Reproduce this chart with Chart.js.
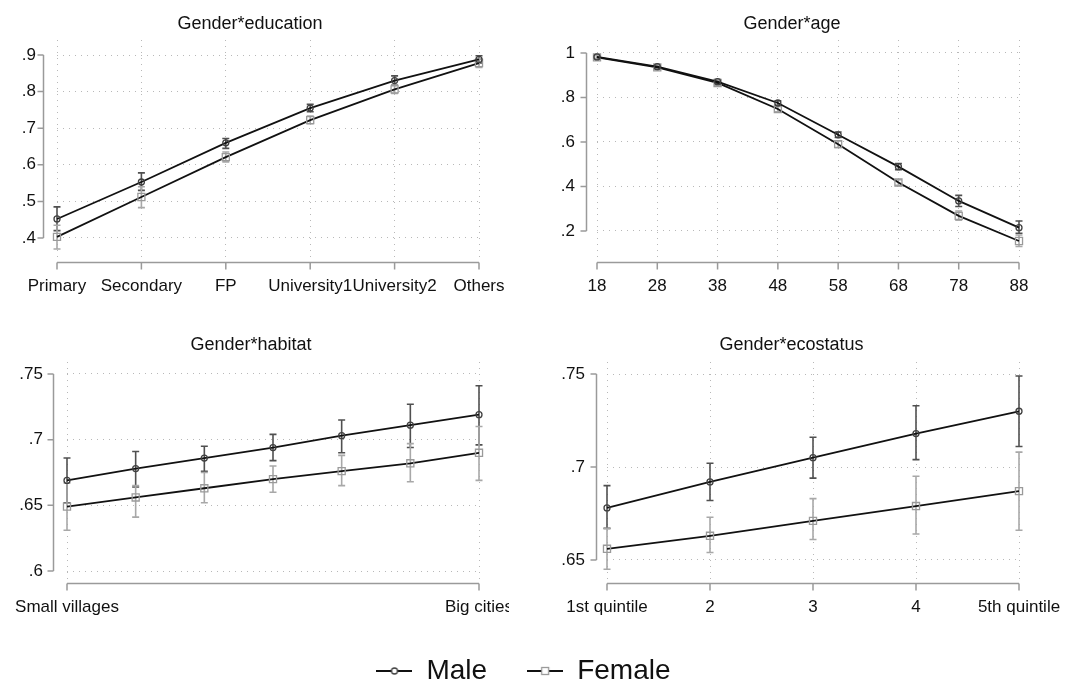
<!DOCTYPE html>
<html>
<head>
<meta charset="utf-8">
<script src="https://cdn.jsdelivr.net/npm/chart.js@4/dist/chart.umd.min.js"></script>
<style>
  body { margin: 0; background: #fff; }
  #wrap { position: relative; width: 1086px; height: 683px; overflow: hidden; }
  canvas { position: absolute; }
</style>
</head>
<body>
<div id="wrap">
  <canvas id="edu" width="543" height="300" style="left:0;top:0"></canvas>
  <canvas id="age" width="543" height="300" style="left:543px;top:0"></canvas>
  <canvas id="hab" width="509" height="320" style="left:0;top:300px"></canvas>
  <canvas id="eco" width="543" height="320" style="left:543px;top:300px"></canvas>
  <canvas id="legend" width="1086" height="240" style="left:0;top:617px"></canvas>
</div>
<script>
// Gender*education
const eduLabels = ['Primary', 'Secondary', 'FP', 'University1', 'University2', 'Others'];
const eduTicks = [0.4, 0.5, 0.6, 0.7, 0.8, 0.9];
const eduMale = [0.452, 0.553, 0.66, 0.755, 0.83, 0.888];
const eduMaleLo = [0.42, 0.53, 0.645, 0.745, 0.818, 0.878];
const eduMaleHi = [0.485, 0.578, 0.672, 0.765, 0.843, 0.898];
const eduFemale = [0.403, 0.512, 0.621, 0.722, 0.806, 0.878];
const eduFemaleLo = [0.37, 0.483, 0.608, 0.712, 0.795, 0.866];
const eduFemaleHi = [0.435, 0.54, 0.635, 0.733, 0.818, 0.89];

// Gender*age
const ageLabels = ['18', '28', '38', '48', '58', '68', '78', '88'];
const ageTicks = [0.2, 0.4, 0.6, 0.8, 1];
const ageMale = [0.982, 0.938, 0.871, 0.775, 0.632, 0.489, 0.335, 0.215];
const ageMaleLo = [0.975, 0.93, 0.862, 0.765, 0.62, 0.475, 0.31, 0.19];
const ageMaleHi = [0.99, 0.946, 0.88, 0.785, 0.645, 0.503, 0.36, 0.245];
const ageFemale = [0.98, 0.935, 0.865, 0.748, 0.59, 0.418, 0.268, 0.155];
const ageFemaleLo = [0.973, 0.927, 0.855, 0.735, 0.575, 0.405, 0.248, 0.13];
const ageFemaleHi = [0.987, 0.943, 0.875, 0.76, 0.605, 0.43, 0.29, 0.182];

// Gender*habitat
const habLabels = ['Small villages', '', '', '', '', '', 'Big cities'];
const habTicks = [0.6, 0.65, 0.7, 0.75];
const habMale = [0.669, 0.678, 0.686, 0.694, 0.703, 0.711, 0.719];
const habMaleLo = [0.652, 0.664, 0.676, 0.684, 0.69, 0.694, 0.696];
const habMaleHi = [0.686, 0.691, 0.695, 0.704, 0.715, 0.727, 0.741];
const habFemale = [0.649, 0.656, 0.663, 0.67, 0.676, 0.682, 0.69];
const habFemaleLo = [0.631, 0.641, 0.652, 0.66, 0.665, 0.668, 0.669];
const habFemaleHi = [0.667, 0.665, 0.675, 0.68, 0.688, 0.697, 0.71];

// Gender*ecostatus
const ecoLabels = ['1st quintile', '2', '3', '4', '5th quintile'];
const ecoTicks = [0.65, 0.7, 0.75];
const ecoMale = [0.678, 0.692, 0.705, 0.718, 0.73];
const ecoMaleLo = [0.667, 0.682, 0.694, 0.704, 0.711];
const ecoMaleHi = [0.69, 0.702, 0.716, 0.733, 0.749];
const ecoFemale = [0.656, 0.663, 0.671, 0.679, 0.687];
const ecoFemaleLo = [0.645, 0.654, 0.661, 0.664, 0.666];
const ecoFemaleHi = [0.667, 0.673, 0.683, 0.695, 0.708];

const FONT = '"Liberation Sans", Arial, sans-serif';
Chart.defaults.font.family = FONT;
Chart.defaults.color = '#111';

const MALE_BAR = '#505050';
const FEMALE_BAR = '#a8a8a8';
const AXIS = '#9a9a9a';

// stata-like axes: y line only between first and last tick, x line between first and last category
const stataAxes = {
  id: 'stataAxes',
  beforeDatasetsDraw(chart, args, opts) {
    const { ctx, chartArea, scales: { x, y } } = chart;
    ctx.save();
    ctx.strokeStyle = AXIS;
    ctx.lineWidth = 1.5;
    const ax = Math.round(chartArea.left - opts.yGap) + 0.5;
    const vals = y.ticks.map(t => t.value);
    ctx.beginPath();
    ctx.moveTo(ax, y.getPixelForValue(Math.max(...vals)));
    ctx.lineTo(ax, y.getPixelForValue(Math.min(...vals)));
    vals.forEach(v => {
      const p = y.getPixelForValue(v);
      ctx.moveTo(ax - 6, p);
      ctx.lineTo(ax, p);
    });
    const labels = x.getLabels();
    const by = Math.round(chartArea.bottom) + 0.5;
    ctx.moveTo(x.getPixelForValue(0), by);
    ctx.lineTo(x.getPixelForValue(labels.length - 1), by);
    labels.forEach((l, i) => {
      if (!l) return;
      const p = x.getPixelForValue(i);
      ctx.moveTo(p, by);
      ctx.lineTo(p, by + 7);
    });
    ctx.stroke();
    ctx.restore();
  }
};

const errorBars = {
  id: 'errorBars',
  beforeDatasetsDraw(chart) {
    const { ctx, scales: { x, y } } = chart;
    chart.data.datasets.forEach(ds => {
      ctx.save();
      ctx.strokeStyle = ds.barColor;
      ctx.lineWidth = 1.6;
      ctx.beginPath();
      ds.data.forEach((v, j) => {
        const px = x.getPixelForValue(j);
        const top = y.getPixelForValue(ds.hi[j]);
        const bot = y.getPixelForValue(ds.lo[j]);
        ctx.moveTo(px, top); ctx.lineTo(px, bot);
        ctx.moveTo(px - 3.5, top); ctx.lineTo(px + 3.5, top);
        ctx.moveTo(px - 3.5, bot); ctx.lineTo(px + 3.5, bot);
      });
      ctx.stroke();
      ctx.restore();
    });
  }
};

// panel title, centred where the original puts it (not on the plot area)
const panelTitle = {
  id: 'panelTitle',
  afterDraw(chart, args, opts) {
    const { ctx } = chart;
    ctx.save();
    ctx.font = '18px ' + FONT;
    ctx.fillStyle = '#111';
    ctx.textAlign = 'center';
    ctx.textBaseline = 'middle';
    ctx.fillText(opts.text, opts.cx, opts.cy);
    ctx.restore();
  }
};

function fmt(v) {
  if (v >= 1) return '1';
  return v.toFixed(2).replace(/0+$/, '').replace(/^0/, '');
}

function panel(id, title, labels, male, maleLo, maleHi, female, femaleLo, femaleHi, ticks, c) {
  return new Chart(document.getElementById(id), {
    type: 'line',
    data: {
      labels,
      datasets: [
        {
          label: 'Male', data: male, lo: maleLo, hi: maleHi, barColor: MALE_BAR,
          borderColor: '#111', borderWidth: 1.8, tension: 0, clip: false,
          pointStyle: 'circle', pointRadius: 3, pointBorderColor: '#404040',
          pointBackgroundColor: 'rgba(255,255,255,0)', pointBorderWidth: 1.3
        },
        {
          label: 'Female', data: female, lo: femaleLo, hi: femaleHi, barColor: FEMALE_BAR,
          borderColor: '#111', borderWidth: 1.8, tension: 0, clip: false,
          pointStyle: 'rect', pointRadius: 5, pointBorderColor: '#9a9a9a',
          pointBackgroundColor: 'rgba(255,255,255,0)', pointBorderWidth: 1.3
        }
      ]
    },
    options: {
      responsive: false,
      animation: false,
      events: [],
      layout: { padding: { left: 0, right: c.padR, top: c.padT, bottom: 0 } },
      scales: {
        x: {
          type: 'category',
          offset: false,
          grid: {
            drawTicks: false,
            color: (ctx) => labels[ctx.index] ? '#b8b8b8' : 'rgba(0,0,0,0)',
            lineWidth: 1
          },
          border: { display: false, dash: [1, 5] },
          ticks: { autoSkip: false, maxRotation: 0, minRotation: 0, padding: 14, font: { size: 17 }, color: '#111' },
          afterFit(s) { s.height = c.xHeight; s.paddingLeft = 0; s.paddingRight = 0; }
        },
        y: {
          min: c.min,
          max: c.max,
          grid: { drawTicks: false, color: '#b8b8b8', lineWidth: 1 },
          border: { display: false, dash: [1, 5] },
          afterBuildTicks(s) { s.ticks = ticks.map(v => ({ value: v })); },
          ticks: { padding: c.yPad, font: { size: 17 }, color: '#111', callback: (v) => fmt(v) },
          afterFit(s) { s.width = c.yWidth; s.paddingTop = 0; s.paddingBottom = 0; }
        }
      },
      plugins: {
        legend: { display: false },
        tooltip: { enabled: false },
        title: { display: false },
        panelTitle: { text: title, cx: c.tx, cy: c.ty },
        stataAxes: { yGap: c.yGap }
      }
    },
    plugins: [stataAxes, errorBars, panelTitle]
  });
}

panel('edu', 'Gender*education', eduLabels, eduMale, eduMaleLo, eduMaleHi, eduFemale, eduFemaleLo, eduFemaleHi, eduTicks,
  { padR: 64, padT: 40, yWidth: 57, min: 0.3344, max: 0.941, tx: 250, ty: 24, xHeight: 38, yPad: 21, yGap: 14 });
panel('age', 'Gender*age', ageLabels, ageMale, ageMaleLo, ageMaleHi, ageFemale, ageFemaleLo, ageFemaleHi, ageTicks,
  { padR: 67, padT: 40, yWidth: 54, min: 0.0607, max: 1.058, tx: 249, ty: 24, xHeight: 38, yPad: 22, yGap: 11 });
panel('hab', 'Gender*habitat', habLabels, habMale, habMaleLo, habMaleHi, habFemale, habFemaleLo, habFemaleHi, habTicks,
  { padR: 30, padT: 62, yWidth: 67, min: 0.5909, max: 0.7591, tx: 251, ty: 45, xHeight: 37, yPad: 24, yGap: 14 });
panel('eco', 'Gender*ecostatus', ecoLabels, ecoMale, ecoMaleLo, ecoMaleHi, ecoFemale, ecoFemaleLo, ecoFemaleHi, ecoTicks,
  { padR: 67, padT: 62, yWidth: 64, min: 0.6376, max: 0.7565, tx: 248.5, ty: 45, xHeight: 37, yPad: 22, yGap: 11 });

// legend symbols: line with marker in the middle
function legendIcon(square) {
  const cv = document.createElement('canvas');
  cv.width = 36; cv.height = 12;
  const g = cv.getContext('2d');
  g.strokeStyle = '#111'; g.lineWidth = 2;
  g.beginPath(); g.moveTo(0, 6); g.lineTo(36, 6); g.stroke();
  g.fillStyle = '#fff'; g.lineWidth = 1.3;
  if (square) {
    g.strokeStyle = '#9a9a9a';
    g.fillRect(14.5, 2.5, 7, 7); g.strokeRect(14.5, 2.5, 7, 7);
  } else {
    g.strokeStyle = '#404040';
    g.beginPath(); g.arc(18, 6, 3, 0, Math.PI * 2); g.fill(); g.stroke();
  }
  return cv;
}
const legendNames = ['Male', 'Female'];
const icons = [legendIcon(false), legendIcon(true)];

new Chart(document.getElementById('legend'), {
  type: 'line',
  data: { labels: [], datasets: legendNames.map(n => ({ label: n, data: [] })) },
  options: {
    responsive: false,
    animation: false,
    events: [],
    layout: { padding: { top: 0, right: 39 } },
    scales: { x: { display: false }, y: { display: false } },
    plugins: {
      tooltip: { enabled: false },
      legend: {
        display: true,
        position: 'top',
        labels: {
          usePointStyle: true,
          pointStyleWidth: 36,
          padding: 40,
          color: '#111',
          font: { size: 28 },
          generateLabels: () => legendNames.map((n, i) => ({
            text: n, pointStyle: icons[i], datasetIndex: i, hidden: false,
            fillStyle: '#fff', strokeStyle: '#111', lineWidth: 0, fontColor: '#111'
          }))
        }
      }
    }
  }
});
</script>
</body>
</html>
